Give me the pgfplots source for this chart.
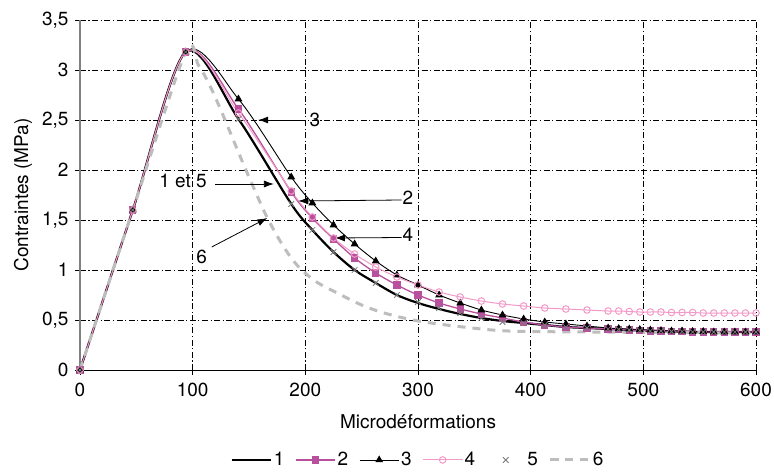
\documentclass[border=0pt]{standalone}
\usepackage{fontspec}
\setmainfont{TeX Gyre Heros}
\usepackage{pgfplots}
\pgfplotsset{compat=1.18}
\usetikzlibrary{arrows.meta}
\definecolor{c2}{HTML}{B8509E}
\definecolor{c4}{HTML}{F29AC8}
\definecolor{c5}{HTML}{7A7A7A}
\definecolor{c6}{HTML}{BDBDBD}
\begin{document}
\fontsize{19bp}{23bp}\selectfont
\begin{tikzpicture}[font=\fontsize{19bp}{23bp}\selectfont]
\path[use as bounding box] (-80bp,-103bp) rectangle (694bp,370bp);
\begin{axis}[
  at={(0,0)}, anchor=south west,
  scale only axis, width=676bp, height=350bp,
  xmin=0, xmax=600, ymin=0, ymax=3.5,
  xtick={0,100,...,600}, ytick={0,0.5,...,3.5},
  axis x line=bottom, axis y line=left,
  x axis line style={-, black, line width=0.8bp},
  y axis line style={-, gray, line width=1.2bp},
  tick align=outside, major tick length=5bp,
  tick style={black, line width=0.6bp},
  grid=major,
  major grid style={black, line width=0.6bp, dash pattern=on 6bp off 2.5bp on 1.2bp off 2.5bp},
  /pgf/number format/use comma,
  /pgf/number format/assume math mode=true,
  ticklabel style={font=\fontsize{19bp}{23bp}\selectfont},
  xticklabel style={yshift=-1.5bp},
  xlabel={Microdéformations},
  ylabel={Contraintes (MPa)},
  xlabel style={at={(axis description cs:0.5,-0.1486)}, anchor=center},
  ylabel style={at={(axis description cs:-0.0843,0.5)}, anchor=center, rotate=0},
  clip=false,
  legend columns=6,
  legend style={draw=none, at={(0.5,-0.257)}, anchor=center,
    font=\fontsize{19bp}{23bp}\selectfont,
    /tikz/every even column/.append style={column sep=9bp},
    nodes={inner xsep=2bp, inner ysep=1bp}},
  legend image code/.code={\draw[mark repeat=2,mark phase=2] plot coordinates {(0bp,0bp) (19.5bp,0bp) (39bp,0bp)};},
]
% 1
\addplot[black, line width=2.2bp, smooth, no markers] coordinates {
(0,0) (46.875,1.6) (93.75,3.18) (140.625,2.51) (187.5,1.66) (206.25,1.40) (225,1.18) (243.75,1.00) (262.5,0.87) (281.25,0.75) (300,0.67) (318.75,0.61) (337.5,0.56) (356.25,0.52) (375,0.49) (393.75,0.47) (412.5,0.45) (431.25,0.43) (450,0.42) (468.75,0.41) (478.125,0.405) (487.5,0.40) (496.875,0.395) (506.25,0.39) (515.625,0.39) (525,0.385) (534.375,0.385) (543.75,0.38) (553.125,0.38) (562.5,0.38) (571.875,0.38) (581.25,0.38) (590.625,0.38) (600,0.38)};
\addlegendentry{1}
% 2
\addplot[c2, line width=1.3bp, smooth, mark=square*, mark size=3bp, mark options={solid, fill=c2}] coordinates {
(0,0) (46.875,1.6) (93.75,3.18) (140.625,2.61) (187.5,1.78) (206.25,1.52) (225,1.31) (243.75,1.12) (262.5,0.97) (281.25,0.85) (300,0.75) (318.75,0.67) (337.5,0.61) (356.25,0.56) (375,0.52) (393.75,0.48) (412.5,0.45) (431.25,0.43) (450,0.42) (468.75,0.41) (478.125,0.405) (487.5,0.40) (496.875,0.395) (506.25,0.39) (515.625,0.39) (525,0.385) (534.375,0.385) (543.75,0.38) (553.125,0.38) (562.5,0.38) (571.875,0.38) (581.25,0.38) (590.625,0.38) (600,0.38)};
\addlegendentry{2}
% 3
\addplot[black, line width=0.9bp, smooth, mark=triangle*, mark size=3.6bp, mark options={solid, fill=black}] coordinates {
(0,0) (46.875,1.6) (93.75,3.18) (140.625,2.71) (187.5,1.93) (206.25,1.67) (225,1.45) (243.75,1.26) (262.5,1.09) (281.25,0.95) (300,0.85) (318.75,0.75) (337.5,0.67) (356.25,0.60) (375,0.55) (393.75,0.51) (412.5,0.48) (431.25,0.46) (450,0.44) (468.75,0.42) (478.125,0.415) (487.5,0.41) (496.875,0.405) (506.25,0.40) (515.625,0.395) (525,0.39) (534.375,0.39) (543.75,0.385) (553.125,0.385) (562.5,0.38) (571.875,0.38) (581.25,0.38) (590.625,0.38) (600,0.38)};
\addlegendentry{3}
% 4
\addplot[c4, line width=1bp, smooth, mark=o, mark size=3.3bp, mark options={solid, fill=white}] coordinates {
(0,0) (46.875,1.6) (93.75,3.18) (140.625,2.57) (187.5,1.79) (206.25,1.53) (225,1.32) (243.75,1.16) (262.5,1.03) (281.25,0.93) (300,0.85) (318.75,0.78) (337.5,0.73) (356.25,0.69) (375,0.66) (393.75,0.64) (412.5,0.62) (431.25,0.61) (450,0.60) (468.75,0.59) (478.125,0.59) (487.5,0.585) (496.875,0.58) (506.25,0.58) (515.625,0.58) (525,0.575) (534.375,0.575) (543.75,0.575) (553.125,0.57) (562.5,0.57) (571.875,0.57) (581.25,0.57) (590.625,0.57) (600,0.57)};
\addlegendentry{4}
% 5
\addplot[c5, only marks, mark=x, mark size=4bp, mark options={line width=0.8bp},
  legend image code/.code={\draw[draw=none] (0bp,0bp) -- (39bp,0bp); \draw[only marks, mark=x, mark size=4bp, mark options={c5, line width=0.8bp}] plot coordinates {(19.5bp,0bp)};}] coordinates {
(0,0) (46.875,1.6) (93.75,3.18) (140.625,2.51) (187.5,1.66) (206.25,1.40) (225,1.18) (243.75,1.00) (262.5,0.87) (281.25,0.75) (300,0.68) (318.75,0.62) (337.5,0.57) (356.25,0.52) (375,0.48) (393.75,0.47) (412.5,0.45) (431.25,0.43) (450,0.42) (468.75,0.41) (478.125,0.405) (487.5,0.40) (496.875,0.395) (506.25,0.39) (515.625,0.39) (525,0.385) (534.375,0.385) (543.75,0.38) (553.125,0.38) (562.5,0.38) (571.875,0.38) (581.25,0.38) (590.625,0.38) (600,0.38)};
\addlegendentry{5}
% 6
\addplot[c6, line width=3bp, smooth, no markers, dash pattern=on 8bp off 7bp] coordinates {
(0,0) (46.875,1.6) (93.75,3.18) (105,3.05) (115,2.85) (125,2.60) (135,2.33) (145,2.06) (155,1.80) (165,1.55) (175,1.34) (185,1.16) (195,1.02) (210,0.88) (230,0.76) (250,0.65) (270,0.57) (300,0.49) (340,0.43) (380,0.39) (450,0.38) (525,0.375) (600,0.37)};
\addlegendentry{6}
% annotations
\node at (axis cs:208.5,2.5) {3};
\draw[black, line width=0.8bp, -{Latex[length=10bp,width=7bp]}] (axis cs:199.6,2.5) -- (axis cs:158.2,2.5);
\node at (axis cs:91.4,1.89) {1 et 5};
\draw[black, line width=0.8bp, -{Latex[length=10bp,width=7bp]}] (axis cs:119.8,1.86) -- (axis cs:172.1,1.86);
\node at (axis cs:291,1.72) {2};
\draw[black, line width=0.8bp, -{Latex[length=10bp,width=7bp]}] (axis cs:285.4,1.70) -- (axis cs:193.7,1.69);
\node at (axis cs:291,1.35) {4};
\draw[black, line width=0.8bp, -{Latex[length=10bp,width=7bp]}] (axis cs:285.4,1.325) -- (axis cs:226.3,1.32);
\node at (axis cs:108,1.13) {6};
\draw[black, line width=0.8bp, -{Latex[length=10bp,width=7bp]}] (axis cs:116.9,1.23) -- (axis cs:166.2,1.52);
\end{axis}
\end{tikzpicture}
\end{document}
